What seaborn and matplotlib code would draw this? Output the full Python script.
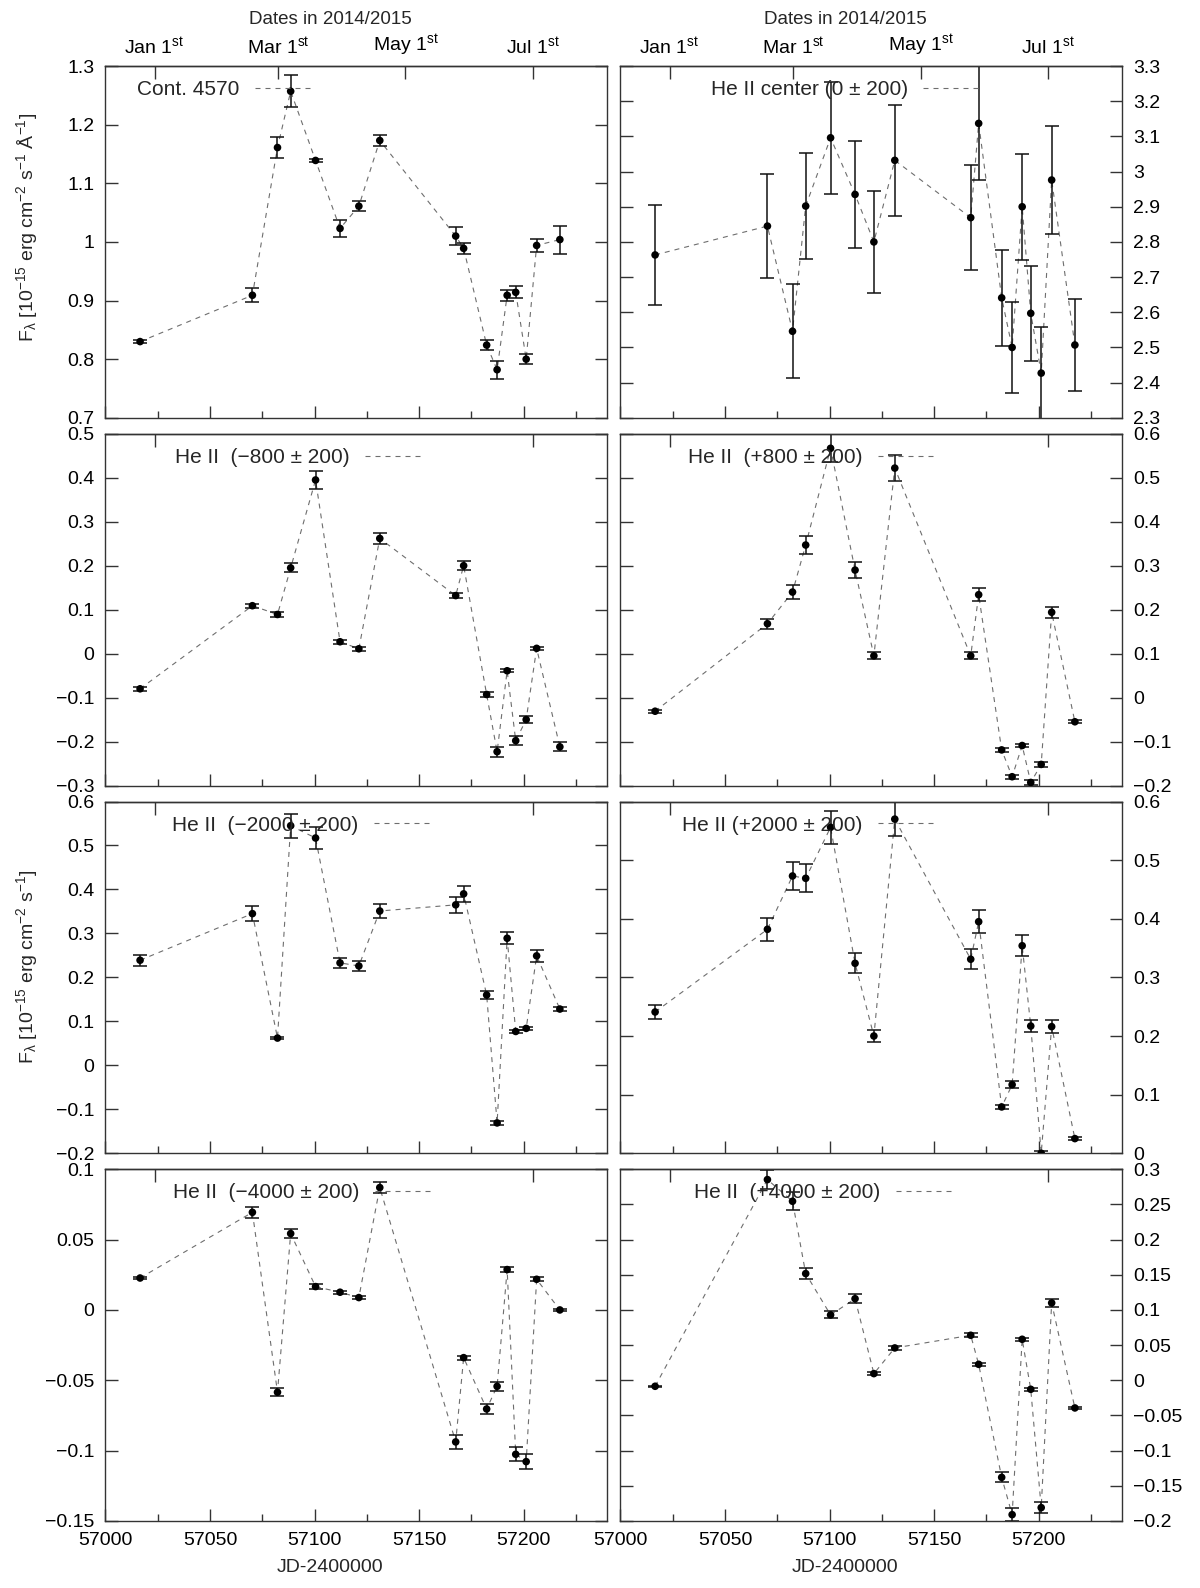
import numpy as np
import matplotlib
matplotlib.use("Agg")
import matplotlib.pyplot as plt
from matplotlib.ticker import MultipleLocator, FuncFormatter
import seaborn as sns

# observation epochs (JD-2400000), shared by all panels
jd = [57016.6, 57070.3, 57082.3, 57088.6, 57100.5, 57112.2, 57121.2, 57131.2,
      57167.5, 57171.3, 57182.3, 57187.3, 57192.1, 57196.2, 57201.2, 57206.2, 57217.3]

cont = [0.830, 0.909, 1.161, 1.257, 1.139, 1.023, 1.061, 1.173, 1.010, 0.989,
        0.824, 0.782, 0.909, 0.914, 0.800, 0.994, 1.004]
cont_err = [0.003, 0.012, 0.018, 0.027, 0.003, 0.014, 0.009, 0.009, 0.016, 0.010,
            0.008, 0.015, 0.009, 0.010, 0.008, 0.011, 0.024]

center = [2.763, 2.845, 2.546, 2.902, 3.096, 2.935, 2.800, 3.032, 2.869, 3.137,
          2.641, 2.500, 2.900, 2.597, 2.427, 2.976, 2.507]
center_err = [0.143, 0.148, 0.133, 0.150, 0.160, 0.153, 0.145, 0.157, 0.149, 0.162,
              0.137, 0.130, 0.150, 0.135, 0.130, 0.153, 0.130]

m800 = [-0.080, 0.109, 0.089, 0.195, 0.395, 0.027, 0.011, 0.262, 0.132, 0.200,
        -0.093, -0.223, -0.039, -0.198, -0.150, 0.012, -0.212]
m800_err = [0.004, 0.005, 0.005, 0.010, 0.020, 0.004, 0.004, 0.013, 0.006, 0.010,
            0.005, 0.011, 0.003, 0.010, 0.008, 0.003, 0.010]

p800 = [-0.031, 0.168, 0.240, 0.347, 0.567, 0.290, 0.095, 0.522, 0.095, 0.234,
        -0.119, -0.180, -0.109, -0.193, -0.152, 0.194, -0.055]
p800_err = [0.003, 0.011, 0.015, 0.020, 0.032, 0.018, 0.008, 0.030, 0.008, 0.015,
            0.005, 0.005, 0.004, 0.005, 0.005, 0.013, 0.003]

m2000 = [0.239, 0.345, 0.062, 0.545, 0.517, 0.233, 0.226, 0.351, 0.365, 0.390,
         0.160, -0.131, 0.289, 0.077, 0.084, 0.249, 0.128]
m2000_err = [0.012, 0.017, 0.003, 0.027, 0.025, 0.011, 0.011, 0.017, 0.018, 0.019,
             0.009, 0.005, 0.014, 0.004, 0.004, 0.013, 0.005]

p2000 = [0.241, 0.382, 0.473, 0.469, 0.556, 0.324, 0.200, 0.570, 0.331, 0.395,
         0.079, 0.117, 0.354, 0.217, 0.000, 0.216, 0.025]
p2000_err = [0.0125, 0.020, 0.024, 0.024, 0.028, 0.017, 0.011, 0.029, 0.017, 0.020,
             0.004, 0.006, 0.018, 0.011, 0.003, 0.011, 0.002]

m4000 = [0.0227, 0.0694, -0.0585, 0.0543, 0.0166, 0.0126, 0.0088, 0.0870, -0.0938, -0.0339,
         -0.0704, -0.0543, 0.0287, -0.1026, -0.1078, 0.0218, 0.0000]
m4000_err = [0.001, 0.0037, 0.003, 0.003, 0.0015, 0.0012, 0.0012, 0.004, 0.0047, 0.0015,
             0.0035, 0.003, 0.0015, 0.005, 0.0053, 0.0015, 0.0008]

p4000 = [-0.0085, 0.2853, 0.2545, 0.1517, 0.0929, 0.1160, 0.0095, 0.0460, 0.0640, 0.0227,
         -0.138, -0.191, 0.0583, -0.0128, -0.181, 0.110, -0.0393]
p4000_err = [0.001, 0.014, 0.013, 0.008, 0.005, 0.0065, 0.002, 0.003, 0.003, 0.002,
             0.007, 0.0095, 0.002, 0.002, 0.008, 0.006, 0.002]

# top axis dates
date_jd = [57023.5, 57082.5, 57143.5, 57204.5]
date_labels = ["Jan 1$^{st}$", "Mar 1$^{st}$", "May 1$^{st}$", "Jul 1$^{st}$"]

ylabel_a = "F$_{\\lambda}$ [10$^{-15}$ erg cm$^{-2}$ s$^{-1}$ Å$^{-1}$]"
ylabel_b = "F$_{\\lambda}$ [10$^{-15}$ erg cm$^{-2}$ s$^{-1}$]"

# (values, errors, key text, ylim, ystep, key right edge, ylabel, ylabel centre)
panels = [
    (cont, cont_err, "Cont. 4570", (0.7, 1.3), 0.1, 0.414, ylabel_a, 0.54),
    (center, center_err, "He II center (0 ± 200)", (2.3, 3.3), 0.1, 0.72, None, 0),
    (m800, m800_err, "He II  (−800 ± 200)", (-0.3, 0.5), 0.1, 0.633, None, 0),
    (p800, p800_err, "He II  (+800 ± 200)", (-0.2, 0.6), 0.1, 0.63, None, 0),
    (m2000, m2000_err, "He II  (−2000 ± 200)", (-0.2, 0.6), 0.1, 0.652, ylabel_b, 0.53),
    (p2000, p2000_err, "He II (+2000 ± 200)", (0.0, 0.6), 0.1, 0.63, None, 0),
    (m4000, m4000_err, "He II  (−4000 ± 200)", (-0.15, 0.1), 0.05, 0.653, None, 0),
    (p4000, p4000_err, "He II  (+4000 ± 200)", (-0.2, 0.3), 0.05, 0.665, None, 0),
]

sns.set_theme(style="ticks")
plt.rcParams['font.family'] = ['Liberation Sans', 'DejaVu Sans']
plt.rcParams.update({
    'font.size': 13.5,
    'mathtext.fontset': 'custom',
    'mathtext.rm': 'Liberation Sans',
    'mathtext.it': 'Liberation Sans:italic',
    'mathtext.default': 'regular',
    'axes.edgecolor': '#333333',
    'axes.linewidth': 1.0,
    'xtick.color': '#333333',
    'ytick.color': '#333333',
    'xtick.labelcolor': 'black',
    'ytick.labelcolor': 'black',
})


def fmt(v, pos):
    v = round(v, 6)
    if v == 0:
        return "0"
    return f"{v:g}".replace('-', '−')


fig, axes = plt.subplots(4, 2, figsize=(12, 15.88), dpi=100)
fig.subplots_adjust(left=0.0878, right=0.9353, top=0.9584, bottom=0.0422,
                    wspace=0.026, hspace=0.0455)

for i, (vals, errs, key, ylim, ystep, kx, ylab, ly) in enumerate(panels):
    ax = axes.flat[i]
    row, col = divmod(i, 2)

    ax.errorbar(jd, vals, yerr=errs, fmt='none', ecolor='#111111',
                elinewidth=1.1, capsize=5, capthick=1.1, zorder=2.5)
    sns.scatterplot(x=jd, y=vals, ax=ax, color='black', s=30,
                    edgecolor='none', zorder=3)
    sns.lineplot(x=jd, y=vals, ax=ax, color='#6e6e6e', linewidth=0.8,
                 linestyle=(0, (4.5, 4.5)), zorder=2)
    line = ax.get_lines()[-1]

    ax.set_xlim(57000, 57240)
    ax.set_ylim(*ylim)
    ax.xaxis.set_major_locator(MultipleLocator(50))
    ax.xaxis.set_minor_locator(MultipleLocator(25))
    ax.yaxis.set_major_locator(MultipleLocator(ystep))
    ax.yaxis.set_major_formatter(FuncFormatter(fmt))
    ax.tick_params(axis='both', which='major', direction='in', length=9,
                   width=1.0, pad=8, labelsize=14)
    ax.tick_params(axis='x', which='minor', direction='in', length=5, width=1.0)
    ax.tick_params(axis='x', which='both', top=False, bottom=True,
                   labelbottom=(row == 3))
    ax.tick_params(axis='y', which='both', left=True, right=True,
                   labelleft=(col == 0), labelright=(col == 1))
    ax.grid(False)
    ax.set_xlabel("")
    ax.set_ylabel("")

    if row == 3:
        ax.set_xlabel("JD-2400000", fontsize=14)
        ax.xaxis.set_label_coords(0.448, -0.108)

    if ylab is not None:
        ax.set_ylabel(ylab, fontsize=14)
        ax.yaxis.set_label_coords(-0.13, ly)

    top = ax.secondary_xaxis('top')
    if row == 0:
        top.set_xticks(date_jd, date_labels)
        top.set_xlabel("Dates in 2014/2015", fontsize=13.5)
        top.xaxis.set_label_coords(0.448, 1.119, transform=ax.transAxes)
    else:
        top.set_xticks([date_jd[0], date_jd[3]], ["", ""])
    top.tick_params(direction='in', length=9, width=1.0, pad=6, labelsize=14)

    ax.legend(handles=[line], labels=[key], loc='upper right',
              bbox_to_anchor=(kx, 0.96), frameon=False, markerfirst=False,
              handlelength=2.8, handletextpad=0.75, borderpad=0,
              borderaxespad=0, fontsize=15)

fig.savefig("out.png", dpi=100)
plt.close(fig)
